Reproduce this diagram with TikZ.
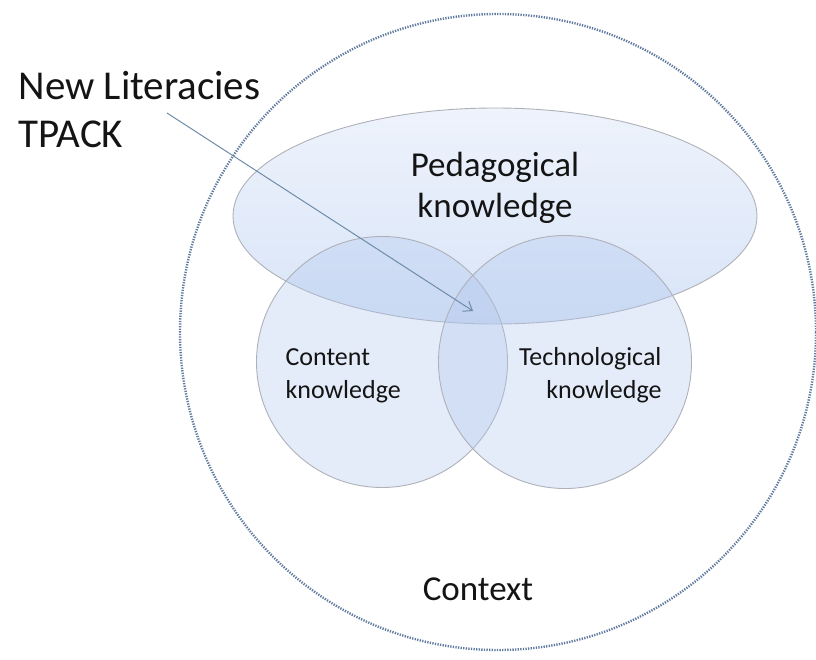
\documentclass[tikz,border=0pt]{standalone}
\usepackage{fontspec}
\setmainfont{Carlito}
\usetikzlibrary{shapes.geometric,arrows.meta}
\definecolor{fillblue}{RGB}{176,198,238}
\definecolor{edgegrey}{RGB}{175,177,185}
\definecolor{dotblue}{RGB}{95,122,158}
\definecolor{arrowblue}{RGB}{110,140,170}
\definecolor{elltop}{RGB}{238,243,252}
\definecolor{ellbot}{RGB}{216,228,247}
\definecolor{textblack}{RGB}{20,20,20}
\tikzset{
  venncircle/.style={circle, draw=edgegrey, line width=0.9pt, fill=fillblue, fill opacity=0.34, draw opacity=1, inner sep=0pt},
  bigtext/.style={font=\fontsize{41}{49}\selectfont, anchor=base west, text=textblack},
  pedtext/.style={font=\fontsize{35}{41}\selectfont, anchor=base, text=textblack},
  smalltext/.style={font=\fontsize{26}{31}\selectfont, text=textblack},
}
\begin{document}
\begin{tikzpicture}[x=1pt,y=-1pt]
\useasboundingbox (0,0) rectangle (816,660);
% outer context circle
\node[circle, draw=dotblue, line width=2.4pt, dash pattern=on 1.3pt off 1.3pt, minimum size=636pt, inner sep=0pt] (ctx) at (498,332) {};
% pedagogical ellipse
\node[ellipse, draw=edgegrey, line width=0.9pt, top color=elltop, bottom color=ellbot, minimum width=524pt, minimum height=216pt, inner sep=0pt] (ped) at (495,216) {};
% content & technological circles
\node[venncircle, minimum size=251pt] (con) at (382,362) {};
\node[venncircle, minimum size=253pt] (tec) at (565,362) {};
% texts
\node[pedtext] (p1) at (495,177) {Pedagogical};
\node[pedtext] (p2) at (495,218) {knowledge};
\node[smalltext, anchor=base west] (c1) at (282,365) {Content};
\node[smalltext, anchor=base west] (c2) at (282,398) {knowledge};
\node[smalltext, anchor=base east] (t1) at (665,365) {Technological};
\node[smalltext, anchor=base east] (t2) at (665,398) {knowledge};
\node[font=\fontsize{35}{41}\selectfont, anchor=base, text=textblack] (cx) at (478,600) {Context};
\node[bigtext] (nl1) at (15,100) {New Literacies};
\node[bigtext] (nl2) at (15,148) {TPACK};
% arrow
\coordinate (astart) at (167,113);
\coordinate (aend) at (473,311);
\draw[arrowblue, line width=1pt, -{Straight Barb[length=8pt,width=12pt]}] (astart) -- (aend);
\end{tikzpicture}
\end{document}
